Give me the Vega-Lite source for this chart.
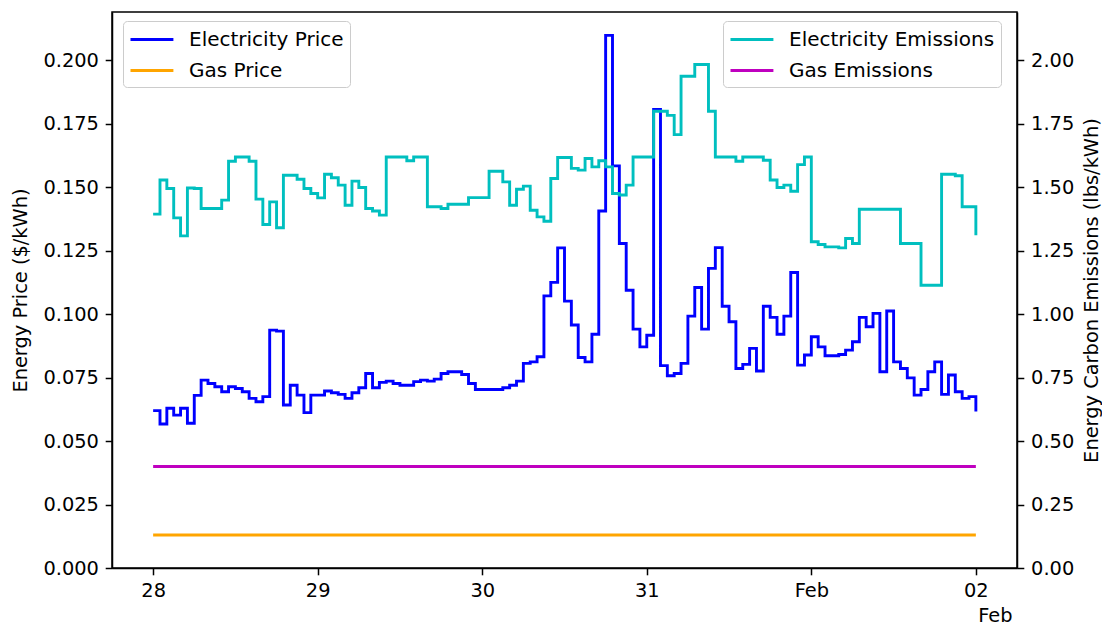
{
  "$schema": "https://vega.github.io/schema/vega-lite/v6.json",
  "width": 905,
  "height": 556,
  "autosize": {"type": "none"},
  "padding": {"left": 112, "top": 12, "right": 85, "bottom": 58},
  "background": "white",
  "config": {
    "font": "DejaVu Sans",
    "view": {"stroke": "black", "strokeWidth": 1.5},
    "axis": {
      "labelFont": "DejaVu Sans", "labelFontSize": 19.4, "labelColor": "black",
      "titleFont": "DejaVu Sans", "titleFontSize": 19.4, "titleFontWeight": "normal", "titleColor": "black",
      "tickColor": "black", "tickSize": 6.8, "tickWidth": 1.5, "labelPadding": 6.8,
      "grid": false, "domainColor": "black", "domainWidth": 1.5
    },
    "legend": {
      "symbolType": "M-1.0,0H2.9", "symbolStrokeWidth": 2.9, "symbolSize": 484,
      "labelFont": "DejaVu Sans", "labelFontSize": 20, "labelColor": "black", "labelLimit": 400,
      "labelOffset": 35, "padding": 6, "rowPadding": 8,
      "strokeColor": "#cccccc", "fillColor": "rgba(255,255,255,0.8)", "cornerRadius": 4
    }
  },
  "data": {"values": [
    {"t":"2023-01-28T00:00","elec_price":0.062,"gas_price":0.013,"elec_em":1.394,"gas_em":0.4},
    {"t":"2023-01-28T01:00","elec_price":0.0567,"gas_price":0.013,"elec_em":1.528,"gas_em":0.4},
    {"t":"2023-01-28T02:00","elec_price":0.0629,"gas_price":0.013,"elec_em":1.495,"gas_em":0.4},
    {"t":"2023-01-28T03:00","elec_price":0.0602,"gas_price":0.013,"elec_em":1.379,"gas_em":0.4},
    {"t":"2023-01-28T04:00","elec_price":0.0629,"gas_price":0.013,"elec_em":1.308,"gas_em":0.4},
    {"t":"2023-01-28T05:00","elec_price":0.057,"gas_price":0.013,"elec_em":1.497,"gas_em":0.4},
    {"t":"2023-01-28T06:00","elec_price":0.068,"gas_price":0.013,"elec_em":1.495,"gas_em":0.4},
    {"t":"2023-01-28T07:00","elec_price":0.074,"gas_price":0.013,"elec_em":1.416,"gas_em":0.4},
    {"t":"2023-01-28T08:00","elec_price":0.0727,"gas_price":0.013,"elec_em":1.416,"gas_em":0.4},
    {"t":"2023-01-28T09:00","elec_price":0.0714,"gas_price":0.013,"elec_em":1.416,"gas_em":0.4},
    {"t":"2023-01-28T10:00","elec_price":0.0694,"gas_price":0.013,"elec_em":1.449,"gas_em":0.4},
    {"t":"2023-01-28T11:00","elec_price":0.0714,"gas_price":0.013,"elec_em":1.602,"gas_em":0.4},
    {"t":"2023-01-28T12:00","elec_price":0.0707,"gas_price":0.013,"elec_em":1.619,"gas_em":0.4},
    {"t":"2023-01-28T13:00","elec_price":0.0694,"gas_price":0.013,"elec_em":1.619,"gas_em":0.4},
    {"t":"2023-01-28T14:00","elec_price":0.0668,"gas_price":0.013,"elec_em":1.602,"gas_em":0.4},
    {"t":"2023-01-28T15:00","elec_price":0.0655,"gas_price":0.013,"elec_em":1.453,"gas_em":0.4},
    {"t":"2023-01-28T16:00","elec_price":0.0675,"gas_price":0.013,"elec_em":1.353,"gas_em":0.4},
    {"t":"2023-01-28T17:00","elec_price":0.0937,"gas_price":0.013,"elec_em":1.442,"gas_em":0.4},
    {"t":"2023-01-28T18:00","elec_price":0.0933,"gas_price":0.013,"elec_em":1.340,"gas_em":0.4},
    {"t":"2023-01-28T19:00","elec_price":0.0642,"gas_price":0.013,"elec_em":1.547,"gas_em":0.4},
    {"t":"2023-01-28T20:00","elec_price":0.072,"gas_price":0.013,"elec_em":1.547,"gas_em":0.4},
    {"t":"2023-01-28T21:00","elec_price":0.0681,"gas_price":0.013,"elec_em":1.531,"gas_em":0.4},
    {"t":"2023-01-28T22:00","elec_price":0.0612,"gas_price":0.013,"elec_em":1.495,"gas_em":0.4},
    {"t":"2023-01-28T23:00","elec_price":0.0681,"gas_price":0.013,"elec_em":1.475,"gas_em":0.4},
    {"t":"2023-01-29T00:00","elec_price":0.0681,"gas_price":0.013,"elec_em":1.458,"gas_em":0.4},
    {"t":"2023-01-29T01:00","elec_price":0.0697,"gas_price":0.013,"elec_em":1.551,"gas_em":0.4},
    {"t":"2023-01-29T02:00","elec_price":0.069,"gas_price":0.013,"elec_em":1.537,"gas_em":0.4},
    {"t":"2023-01-29T03:00","elec_price":0.0684,"gas_price":0.013,"elec_em":1.508,"gas_em":0.4},
    {"t":"2023-01-29T04:00","elec_price":0.0668,"gas_price":0.013,"elec_em":1.429,"gas_em":0.4},
    {"t":"2023-01-29T05:00","elec_price":0.069,"gas_price":0.013,"elec_em":1.524,"gas_em":0.4},
    {"t":"2023-01-29T06:00","elec_price":0.071,"gas_price":0.013,"elec_em":1.499,"gas_em":0.4},
    {"t":"2023-01-29T07:00","elec_price":0.0766,"gas_price":0.013,"elec_em":1.416,"gas_em":0.4},
    {"t":"2023-01-29T08:00","elec_price":0.071,"gas_price":0.013,"elec_em":1.406,"gas_em":0.4},
    {"t":"2023-01-29T09:00","elec_price":0.0731,"gas_price":0.013,"elec_em":1.390,"gas_em":0.4},
    {"t":"2023-01-29T10:00","elec_price":0.0736,"gas_price":0.013,"elec_em":1.619,"gas_em":0.4},
    {"t":"2023-01-29T11:00","elec_price":0.0727,"gas_price":0.013,"elec_em":1.619,"gas_em":0.4},
    {"t":"2023-01-29T12:00","elec_price":0.072,"gas_price":0.013,"elec_em":1.619,"gas_em":0.4},
    {"t":"2023-01-29T13:00","elec_price":0.072,"gas_price":0.013,"elec_em":1.604,"gas_em":0.4},
    {"t":"2023-01-29T14:00","elec_price":0.0734,"gas_price":0.013,"elec_em":1.619,"gas_em":0.4},
    {"t":"2023-01-29T15:00","elec_price":0.074,"gas_price":0.013,"elec_em":1.619,"gas_em":0.4},
    {"t":"2023-01-29T16:00","elec_price":0.0736,"gas_price":0.013,"elec_em":1.423,"gas_em":0.4},
    {"t":"2023-01-29T17:00","elec_price":0.0744,"gas_price":0.013,"elec_em":1.423,"gas_em":0.4},
    {"t":"2023-01-29T18:00","elec_price":0.0766,"gas_price":0.013,"elec_em":1.416,"gas_em":0.4},
    {"t":"2023-01-29T19:00","elec_price":0.0773,"gas_price":0.013,"elec_em":1.433,"gas_em":0.4},
    {"t":"2023-01-29T20:00","elec_price":0.0773,"gas_price":0.013,"elec_em":1.433,"gas_em":0.4},
    {"t":"2023-01-29T21:00","elec_price":0.0762,"gas_price":0.013,"elec_em":1.433,"gas_em":0.4},
    {"t":"2023-01-29T22:00","elec_price":0.0727,"gas_price":0.013,"elec_em":1.459,"gas_em":0.4},
    {"t":"2023-01-29T23:00","elec_price":0.0703,"gas_price":0.013,"elec_em":1.459,"gas_em":0.4},
    {"t":"2023-01-30T00:00","elec_price":0.0703,"gas_price":0.013,"elec_em":1.459,"gas_em":0.4},
    {"t":"2023-01-30T01:00","elec_price":0.0703,"gas_price":0.013,"elec_em":1.563,"gas_em":0.4},
    {"t":"2023-01-30T02:00","elec_price":0.0703,"gas_price":0.013,"elec_em":1.563,"gas_em":0.4},
    {"t":"2023-01-30T03:00","elec_price":0.071,"gas_price":0.013,"elec_em":1.521,"gas_em":0.4},
    {"t":"2023-01-30T04:00","elec_price":0.072,"gas_price":0.013,"elec_em":1.429,"gas_em":0.4},
    {"t":"2023-01-30T05:00","elec_price":0.0736,"gas_price":0.013,"elec_em":1.492,"gas_em":0.4},
    {"t":"2023-01-30T06:00","elec_price":0.0806,"gas_price":0.013,"elec_em":1.504,"gas_em":0.4},
    {"t":"2023-01-30T07:00","elec_price":0.0812,"gas_price":0.013,"elec_em":1.409,"gas_em":0.4},
    {"t":"2023-01-30T08:00","elec_price":0.0832,"gas_price":0.013,"elec_em":1.383,"gas_em":0.4},
    {"t":"2023-01-30T09:00","elec_price":0.1072,"gas_price":0.013,"elec_em":1.366,"gas_em":0.4},
    {"t":"2023-01-30T10:00","elec_price":0.1125,"gas_price":0.013,"elec_em":1.534,"gas_em":0.4},
    {"t":"2023-01-30T11:00","elec_price":0.1261,"gas_price":0.013,"elec_em":1.617,"gas_em":0.4},
    {"t":"2023-01-30T12:00","elec_price":0.1051,"gas_price":0.013,"elec_em":1.617,"gas_em":0.4},
    {"t":"2023-01-30T13:00","elec_price":0.0957,"gas_price":0.013,"elec_em":1.574,"gas_em":0.4},
    {"t":"2023-01-30T14:00","elec_price":0.0829,"gas_price":0.013,"elec_em":1.567,"gas_em":0.4},
    {"t":"2023-01-30T15:00","elec_price":0.0812,"gas_price":0.013,"elec_em":1.613,"gas_em":0.4},
    {"t":"2023-01-30T16:00","elec_price":0.0921,"gas_price":0.013,"elec_em":1.580,"gas_em":0.4},
    {"t":"2023-01-30T17:00","elec_price":0.1406,"gas_price":0.013,"elec_em":1.604,"gas_em":0.4},
    {"t":"2023-01-30T18:00","elec_price":0.2098,"gas_price":0.013,"elec_em":1.580,"gas_em":0.4},
    {"t":"2023-01-30T19:00","elec_price":0.1584,"gas_price":0.013,"elec_em":1.475,"gas_em":0.4},
    {"t":"2023-01-30T20:00","elec_price":0.1278,"gas_price":0.013,"elec_em":1.469,"gas_em":0.4},
    {"t":"2023-01-30T21:00","elec_price":0.1094,"gas_price":0.013,"elec_em":1.508,"gas_em":0.4},
    {"t":"2023-01-30T22:00","elec_price":0.0941,"gas_price":0.013,"elec_em":1.619,"gas_em":0.4},
    {"t":"2023-01-30T23:00","elec_price":0.0871,"gas_price":0.013,"elec_em":1.619,"gas_em":0.4},
    {"t":"2023-01-31T00:00","elec_price":0.0917,"gas_price":0.013,"elec_em":1.619,"gas_em":0.4},
    {"t":"2023-01-31T01:00","elec_price":0.1806,"gas_price":0.013,"elec_em":1.799,"gas_em":0.4},
    {"t":"2023-01-31T02:00","elec_price":0.0797,"gas_price":0.013,"elec_em":1.799,"gas_em":0.4},
    {"t":"2023-01-31T03:00","elec_price":0.0757,"gas_price":0.013,"elec_em":1.783,"gas_em":0.4},
    {"t":"2023-01-31T04:00","elec_price":0.0766,"gas_price":0.013,"elec_em":1.707,"gas_em":0.4},
    {"t":"2023-01-31T05:00","elec_price":0.0806,"gas_price":0.013,"elec_em":1.937,"gas_em":0.4},
    {"t":"2023-01-31T06:00","elec_price":0.0992,"gas_price":0.013,"elec_em":1.937,"gas_em":0.4},
    {"t":"2023-01-31T07:00","elec_price":0.1105,"gas_price":0.013,"elec_em":1.983,"gas_em":0.4},
    {"t":"2023-01-31T08:00","elec_price":0.0941,"gas_price":0.013,"elec_em":1.983,"gas_em":0.4},
    {"t":"2023-01-31T09:00","elec_price":0.118,"gas_price":0.013,"elec_em":1.799,"gas_em":0.4},
    {"t":"2023-01-31T10:00","elec_price":0.1262,"gas_price":0.013,"elec_em":1.619,"gas_em":0.4},
    {"t":"2023-01-31T11:00","elec_price":0.1031,"gas_price":0.013,"elec_em":1.619,"gas_em":0.4},
    {"t":"2023-01-31T12:00","elec_price":0.097,"gas_price":0.013,"elec_em":1.619,"gas_em":0.4},
    {"t":"2023-01-31T13:00","elec_price":0.0786,"gas_price":0.013,"elec_em":1.602,"gas_em":0.4},
    {"t":"2023-01-31T14:00","elec_price":0.0802,"gas_price":0.013,"elec_em":1.619,"gas_em":0.4},
    {"t":"2023-01-31T15:00","elec_price":0.0865,"gas_price":0.013,"elec_em":1.619,"gas_em":0.4},
    {"t":"2023-01-31T16:00","elec_price":0.0776,"gas_price":0.013,"elec_em":1.619,"gas_em":0.4},
    {"t":"2023-01-31T17:00","elec_price":0.1031,"gas_price":0.013,"elec_em":1.606,"gas_em":0.4},
    {"t":"2023-01-31T18:00","elec_price":0.0987,"gas_price":0.013,"elec_em":1.528,"gas_em":0.4},
    {"t":"2023-01-31T19:00","elec_price":0.0921,"gas_price":0.013,"elec_em":1.499,"gas_em":0.4},
    {"t":"2023-01-31T20:00","elec_price":0.0992,"gas_price":0.013,"elec_em":1.508,"gas_em":0.4},
    {"t":"2023-01-31T21:00","elec_price":0.1164,"gas_price":0.013,"elec_em":1.484,"gas_em":0.4},
    {"t":"2023-01-31T22:00","elec_price":0.0799,"gas_price":0.013,"elec_em":1.589,"gas_em":0.4},
    {"t":"2023-01-31T23:00","elec_price":0.0839,"gas_price":0.013,"elec_em":1.619,"gas_em":0.4},
    {"t":"2023-02-01T00:00","elec_price":0.0911,"gas_price":0.013,"elec_em":1.285,"gas_em":0.4},
    {"t":"2023-02-01T01:00","elec_price":0.0871,"gas_price":0.013,"elec_em":1.274,"gas_em":0.4},
    {"t":"2023-02-01T02:00","elec_price":0.0836,"gas_price":0.013,"elec_em":1.265,"gas_em":0.4},
    {"t":"2023-02-01T03:00","elec_price":0.0836,"gas_price":0.013,"elec_em":1.265,"gas_em":0.4},
    {"t":"2023-02-01T04:00","elec_price":0.0841,"gas_price":0.013,"elec_em":1.261,"gas_em":0.4},
    {"t":"2023-02-01T05:00","elec_price":0.0858,"gas_price":0.013,"elec_em":1.298,"gas_em":0.4},
    {"t":"2023-02-01T06:00","elec_price":0.0891,"gas_price":0.013,"elec_em":1.278,"gas_em":0.4},
    {"t":"2023-02-01T07:00","elec_price":0.0987,"gas_price":0.013,"elec_em":1.413,"gas_em":0.4},
    {"t":"2023-02-01T08:00","elec_price":0.095,"gas_price":0.013,"elec_em":1.413,"gas_em":0.4},
    {"t":"2023-02-01T09:00","elec_price":0.1003,"gas_price":0.013,"elec_em":1.413,"gas_em":0.4},
    {"t":"2023-02-01T10:00","elec_price":0.0773,"gas_price":0.013,"elec_em":1.413,"gas_em":0.4},
    {"t":"2023-02-01T11:00","elec_price":0.1012,"gas_price":0.013,"elec_em":1.413,"gas_em":0.4},
    {"t":"2023-02-01T12:00","elec_price":0.0812,"gas_price":0.013,"elec_em":1.413,"gas_em":0.4},
    {"t":"2023-02-01T13:00","elec_price":0.0786,"gas_price":0.013,"elec_em":1.278,"gas_em":0.4},
    {"t":"2023-02-01T14:00","elec_price":0.0749,"gas_price":0.013,"elec_em":1.278,"gas_em":0.4},
    {"t":"2023-02-01T15:00","elec_price":0.0681,"gas_price":0.013,"elec_em":1.278,"gas_em":0.4},
    {"t":"2023-02-01T16:00","elec_price":0.0703,"gas_price":0.013,"elec_em":1.114,"gas_em":0.4},
    {"t":"2023-02-01T17:00","elec_price":0.0773,"gas_price":0.013,"elec_em":1.114,"gas_em":0.4},
    {"t":"2023-02-01T18:00","elec_price":0.0812,"gas_price":0.013,"elec_em":1.114,"gas_em":0.4},
    {"t":"2023-02-01T19:00","elec_price":0.0684,"gas_price":0.013,"elec_em":1.551,"gas_em":0.4},
    {"t":"2023-02-01T20:00","elec_price":0.076,"gas_price":0.013,"elec_em":1.551,"gas_em":0.4},
    {"t":"2023-02-01T21:00","elec_price":0.0694,"gas_price":0.013,"elec_em":1.545,"gas_em":0.4},
    {"t":"2023-02-01T22:00","elec_price":0.0668,"gas_price":0.013,"elec_em":1.423,"gas_em":0.4},
    {"t":"2023-02-01T23:00","elec_price":0.0675,"gas_price":0.013,"elec_em":1.423,"gas_em":0.4},
    {"t":"2023-02-02T00:00","elec_price":0.0616,"gas_price":0.013,"elec_em":1.311,"gas_em":0.4}
  ]},
  "encoding": {
    "x": {
      "field": "t", "type": "temporal",
      "scale": {"domain": [{"year": 2023, "month": 1, "date": 27, "hours": 18}, {"year": 2023, "month": 2, "date": 2, "hours": 6}]},
      "axis": {
        "values": [
          {"year": 2023, "month": 1, "date": 28}, {"year": 2023, "month": 1, "date": 29},
          {"year": 2023, "month": 1, "date": 30}, {"year": 2023, "month": 1, "date": 31},
          {"year": 2023, "month": 2, "date": 1}, {"year": 2023, "month": 2, "date": 2}
        ],
        "labelExpr": "date(datum.value) == 1 ? 'Feb' : timeFormat(datum.value, '%d')",
        "title": "Feb", "titleAnchor": "end", "titleAlign": "right", "titleX": 900, "titlePadding": 6
      }
    }
  },
  "layer": [
    {
      "layer": [
        {
          "mark": {"type": "line", "interpolate": "step-after", "strokeWidth": 2.9},
          "encoding": {
            "y": {"field": "elec_price", "type": "quantitative", "title": "Energy Price ($/kWh)",
                  "scale": {"domain": [0, 0.219], "nice": false},
                  "axis": {"orient": "left", "values": [0, 0.025, 0.05, 0.075, 0.1, 0.125, 0.15, 0.175, 0.2], "format": ".3f", "titlePadding": 12}},
            "color": {"datum": "Electricity Price",
                      "scale": {"domain": ["Electricity Price", "Gas Price"], "range": ["#0000ff", "#ffa500"]},
                      "legend": {"orient": "none", "legendX": 11, "legendY": 9, "title": null}}
          }
        },
        {
          "mark": {"type": "line", "interpolate": "step-after", "strokeWidth": 2.9},
          "encoding": {
            "y": {"field": "gas_price", "type": "quantitative", "title": "Energy Price ($/kWh)"},
            "color": {"datum": "Gas Price"}
          }
        }
      ]
    },
    {
      "layer": [
        {
          "mark": {"type": "line", "interpolate": "step-after", "strokeWidth": 2.9},
          "encoding": {
            "y": {"field": "elec_em", "type": "quantitative", "title": "Energy Carbon Emissions (lbs/kWh)",
                  "scale": {"domain": [0, 2.19], "nice": false},
                  "axis": {"orient": "right", "values": [0, 0.25, 0.5, 0.75, 1, 1.25, 1.5, 1.75, 2], "format": ".2f", "titleAngle": 270, "titleBaseline": "top", "titlePadding": 9}},
            "color": {"datum": "Electricity Emissions",
                      "scale": {"domain": ["Electricity Emissions", "Gas Emissions"], "range": ["#00bfbf", "#bf00bf"]},
                      "legend": {"orient": "none", "legendX": 611, "legendY": 9, "title": null}}
          }
        },
        {
          "mark": {"type": "line", "interpolate": "step-after", "strokeWidth": 2.9},
          "encoding": {
            "y": {"field": "gas_em", "type": "quantitative", "title": "Energy Carbon Emissions (lbs/kWh)"},
            "color": {"datum": "Gas Emissions"}
          }
        }
      ]
    }
  ],
  "resolve": {"scale": {"y": "independent", "color": "independent"}}
}
